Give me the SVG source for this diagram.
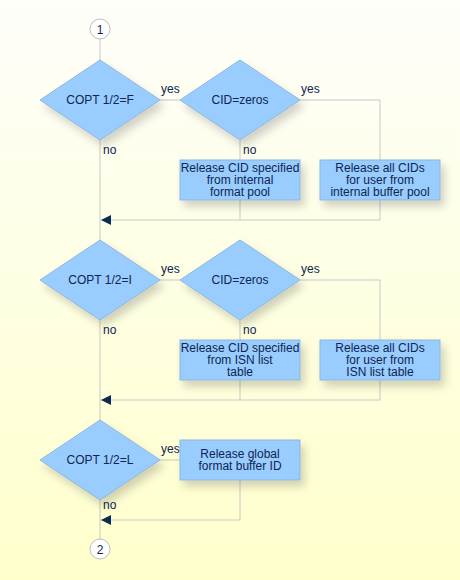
<svg xmlns="http://www.w3.org/2000/svg" width="460" height="580" viewBox="0 0 460 580">
<defs>
<linearGradient id="bg" x1="0" y1="0" x2="0" y2="1">
<stop offset="0" stop-color="#fefefa"/>
<stop offset="1" stop-color="#ffffcc"/>
</linearGradient>
<filter id="sh" x="-20%" y="-20%" width="150%" height="160%">
<feDropShadow dx="4" dy="6" stdDeviation="4" flood-color="#000" flood-opacity="0.18"/>
</filter>
<marker id="arr" viewBox="0 0 10 10" refX="10" refY="5" markerWidth="10" markerHeight="10" markerUnits="userSpaceOnUse" orient="auto">
<path d="M0,0 L10,5 L0,10 Z" fill="#0b2a55"/>
</marker>
<style>
.shape{fill:#99ccff;stroke:#8cb6de;stroke-width:1;filter:url(#sh)}
.line{fill:none;stroke:#c8c8c8;stroke-width:1}
text{font-family:"Liberation Sans",Arial,sans-serif;font-size:12px;fill:#0d2550}
.c{text-anchor:middle}
.conn{fill:#fff;stroke:#bdbdbd;stroke-width:1}
</style>
</defs>
<rect width="460" height="580" fill="url(#bg)"/>

<g id="connectors">
<path class="line" d="M100,39 V540"/>
<path class="line" d="M160,100 H180"/>
<path class="line" d="M300,100 H380 V160"/>
<path class="line" d="M240,140 V160"/>
<path class="line" d="M240,200 V220"/>
<path class="line" d="M380,200 V220 H101" marker-end="url(#arr)"/>
<path class="line" d="M160,280 H180"/>
<path class="line" d="M300,280 H380 V340"/>
<path class="line" d="M240,320 V340"/>
<path class="line" d="M240,380 V400"/>
<path class="line" d="M380,380 V400 H101" marker-end="url(#arr)"/>
<path class="line" d="M160,460 H180"/>
<path class="line" d="M240,480 V520 H101" marker-end="url(#arr)"/>
<text x="161" y="93">yes</text>
<text x="103" y="154">no</text>
<text x="301" y="93">yes</text>
<text x="243" y="154">no</text>
<text x="161" y="273">yes</text>
<text x="103" y="334">no</text>
<text x="301" y="273">yes</text>
<text x="243" y="334">no</text>
<text x="161" y="453">yes</text>
<text x="103" y="509">no</text>
</g>

<g id="start">
<circle class="conn" cx="100" cy="29" r="10"/>
<text class="c" x="100" y="33.5">1</text>
</g>

<g id="d1">
<polygon class="shape" points="100,60 160,100 100,140 40,100"/>
<text class="c" x="100" y="104">COPT 1/2=F</text>
</g>
<g id="d2">
<polygon class="shape" points="240,60 300,100 240,140 180,100"/>
<text class="c" x="240" y="104">CID=zeros</text>
</g>
<g id="b1">
<rect class="shape" x="180" y="160" width="120" height="40"/>
<text class="c" x="240" y="172">Release CID specified</text>
<text class="c" x="240" y="184">from internal</text>
<text class="c" x="240" y="196">format pool</text>
</g>
<g id="b2">
<rect class="shape" x="320" y="160" width="120" height="40"/>
<text class="c" x="380" y="172">Release all CIDs</text>
<text class="c" x="380" y="184">for user from</text>
<text class="c" x="380" y="196">internal buffer pool</text>
</g>

<g id="d3">
<polygon class="shape" points="100,240 160,280 100,320 40,280"/>
<text class="c" x="100" y="284">COPT 1/2=I</text>
</g>
<g id="d4">
<polygon class="shape" points="240,240 300,280 240,320 180,280"/>
<text class="c" x="240" y="284">CID=zeros</text>
</g>
<g id="b3">
<rect class="shape" x="180" y="340" width="120" height="40"/>
<text class="c" x="240" y="352">Release CID specified</text>
<text class="c" x="240" y="364">from ISN list</text>
<text class="c" x="240" y="376">table</text>
</g>
<g id="b4">
<rect class="shape" x="320" y="340" width="120" height="40"/>
<text class="c" x="380" y="352">Release all CIDs</text>
<text class="c" x="380" y="364">for user from</text>
<text class="c" x="380" y="376">ISN list table</text>
</g>

<g id="d5">
<polygon class="shape" points="100,420 160,460 100,500 40,460"/>
<text class="c" x="100" y="464">COPT 1/2=L</text>
</g>
<g id="b5">
<rect class="shape" x="180" y="440" width="120" height="40"/>
<text class="c" x="240" y="457.5">Release global</text>
<text class="c" x="240" y="470">format buffer ID</text>
</g>

<g id="end">
<circle class="conn" cx="100" cy="549" r="10"/>
<text class="c" x="100" y="553.5">2</text>
</g>
</svg>
